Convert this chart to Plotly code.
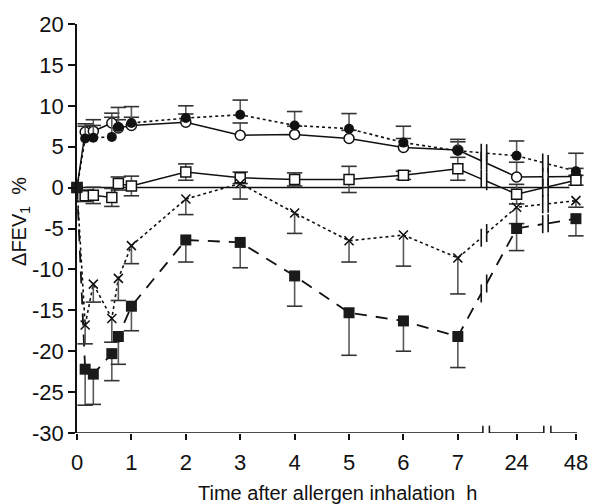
import numpy as np
import plotly.graph_objects as go

# ---------------- data ----------------
time_h = [0, 0.15, 0.3, 0.64, 0.76, 1, 2, 3, 4, 5, 6, 7, 24, 48]
tick_hours = [0, 1, 2, 3, 4, 5, 6, 7, 24, 48]
tick_text = ["0", "1", "2", "3", "4", "5", "6", "7", "24", "48"]
y_ticks = [-30, -25, -20, -15, -10, -5, 0, 5, 10, 15, 20]
y_tick_text = ["-30", "-25", "-20", "-15", "-10", "-5", "0", "5", "10", "15", "20"]

# filled circles (dotted line), error bars upward
fc_vals = [0, 6.0, 6.1, 6.2, 7.4, 7.9, 8.5, 8.9, 7.6, 7.2, 5.5, 4.5, 3.9, 2.0]
fc_err = [None, 1.5, 1.5, 2.4, 2.4, 2.0, 1.5, 1.8, 1.7, 1.85, 2.0, 1.4, 1.8, 2.2]
# open circles (solid line), error bars upward
oc_vals = [0, 6.8, 6.9, 7.9, 7.3, 7.6, 8.0, 6.4, 6.5, 6.0, 4.9, 4.6, 1.3, 1.35]
oc_err = [None, 1.0, 1.4, 1.2, 1.0, 1.0, 1.0, 1.5, 1.0, 1.0, 1.1, 1.0, 1.8, 1.0]
# open squares (solid line), symmetric error bars
os_vals = [0, -1.0, -0.95, -1.2, 0.5, 0.2, 1.9, 1.2, 1.0, 1.0, 1.5, 2.3, -0.8, 0.9]
os_err = [None, 0.7, 1.0, 1.1, 0.8, 1.2, 1.0, 0.7, 0.8, 1.6, 0.5, 1.4, 1.2, 0.6]
# crosses (dotted line), error bars downward
cr_vals = [0, -16.8, -11.8, -16.0, -11.1, -7.1, -1.4, 0.5, -3.1, -6.5, -5.8, -8.6, -2.4, -1.6]
cr_err = [None, 2.3, 2.2, 2.9, 2.7, 2.2, 1.9, 1.9, 2.5, 2.6, 3.8, 4.4, 2.0, 0.8]
# filled squares (dashed line), error bars downward
fs_vals = [0, -22.2, -22.8, -20.3, -18.2, -14.5, -6.4, -6.7, -10.8, -15.3, -16.3, -18.2, -5.0, -3.8]
fs_err = [None, 4.4, 3.7, 3.3, 3.4, 3.0, 2.7, 3.1, 3.7, 5.2, 3.7, 3.8, 2.7, 2.1]

# ---------------- broken time scale ----------------
anchor_h = [0, 7, 24, 48]
anchor_p = [0, 7, 8.08, 9.17]
X_END = 9.19


def to_pos(h):
    return float(np.interp(h, anchor_h, anchor_p))


pos = [to_pos(h) for h in time_h]
tick_pos = [to_pos(h) for h in tick_hours]

line_breaks = [(7.43, 7.53), (8.56, 8.66)]
axis_breaks = [(7.46, 7.58), (8.58, 8.71)]

BLACK = "#111111"
ERRC = "#5a5a5a"
CAPC = "#333333"


def broken_line(xs, ys):
    """Insert gaps in the polyline where it crosses a break."""
    ox, oy, marks = [], [], []
    for i in range(len(xs)):
        if i > 0:
            x0, y0, x1, y1 = xs[i - 1], ys[i - 1], xs[i], ys[i]
            for bl, br in line_breaks:
                if x0 < bl and x1 > br:
                    yl = y0 + (y1 - y0) * (bl - x0) / (x1 - x0)
                    yr = y0 + (y1 - y0) * (br - x0) / (x1 - x0)
                    ox += [bl, None, br]
                    oy += [yl, None, yr]
                    marks += [(bl, yl), (br, yr)]
        ox.append(xs[i])
        oy.append(ys[i])
    return ox, oy, marks


def err_geometry(xs, ys, errs, dirn):
    """Stems (with None separators) and cap positions for error bars."""
    sx, sy, cx, cy = [], [], [], []
    for x, y, e in zip(xs, ys, errs):
        if e is None:
            continue
        if dirn == "up":
            ends = [y + e]
            sx += [x, x, None]
            sy += [y, y + e, None]
        elif dirn == "down":
            ends = [y - e]
            sx += [x, x, None]
            sy += [y, y - e, None]
        else:
            ends = [y + e, y - e]
            sx += [x, x, None]
            sy += [y - e, y + e, None]
        for v in ends:
            cx.append(x)
            cy.append(v)
    return sx, sy, cx, cy


series = [
    dict(vals=oc_vals, err=oc_err, dirn="up", dash="solid", lw=1.5,
         marker=dict(symbol="circle", size=10, color="white", line=dict(color=BLACK, width=1.5))),
    dict(vals=fc_vals, err=fc_err, dirn="up", dash="3px,3px", lw=1.6,
         marker=dict(symbol="circle", size=10, color=BLACK, line=dict(color=BLACK, width=0))),
    dict(vals=os_vals, err=os_err, dirn="both", dash="solid", lw=1.5,
         marker=dict(symbol="square", size=10, color="white", line=dict(color=BLACK, width=1.5))),
    dict(vals=cr_vals, err=cr_err, dirn="down", dash="3px,3px", lw=1.6,
         marker=dict(symbol="x-thin-open", size=9, color=BLACK, line=dict(color=BLACK, width=1.6))),
    dict(vals=fs_vals, err=fs_err, dirn="down", dash="12px,9px", lw=1.8,
         marker=dict(symbol="square", size=11, color="#1a1a1a", line=dict(color="#1a1a1a", width=0))),
]

fig = go.Figure()
shapes = []

# connecting lines first
for s in series:
    lx, ly, marks = broken_line(pos, s["vals"])
    fig.add_trace(go.Scatter(x=lx, y=ly, mode="lines", showlegend=False, hoverinfo="skip",
                             line=dict(color=BLACK, width=s["lw"], dash=s["dash"]),
                             cliponaxis=False))
    for (bx, by) in marks:
        shapes.append(dict(type="line", xref="x", yref="y", x0=bx, x1=bx, y0=by - 1.1, y1=by + 1.1,
                           line=dict(color=BLACK, width=1.6), layer="above"))

# error bars + markers, series by series
for s in series:
    sx, sy, cx, cy = err_geometry(pos, s["vals"], s["err"], s["dirn"])
    fig.add_trace(go.Scatter(x=sx, y=sy, mode="lines", showlegend=False, hoverinfo="skip",
                             line=dict(color=ERRC, width=1.6), cliponaxis=False))
    fig.add_trace(go.Scatter(x=cx, y=cy, mode="markers", showlegend=False, hoverinfo="skip",
                             marker=dict(symbol="line-ew", size=11, color=CAPC,
                                         line=dict(color=CAPC, width=1.6)),
                             cliponaxis=False))
    fig.add_trace(go.Scatter(x=pos, y=s["vals"], mode="markers", showlegend=False,
                             marker=s["marker"], cliponaxis=False))

# zero reference line
shapes.append(dict(type="line", xref="x", yref="y", x0=0, x1=9.05, y0=0, y1=0,
                   line=dict(color=BLACK, width=1.5), layer="below"))

# broken x axis line
segs = [(0, axis_breaks[0][0]), (axis_breaks[0][1], axis_breaks[1][0]), (axis_breaks[1][1], X_END)]
for a, b in segs:
    shapes.append(dict(type="line", xref="x", yref="y", x0=a, x1=b, y0=-30, y1=-30,
                       line=dict(color=BLACK, width=1.5)))
for bl, br in axis_breaks:
    for bx in (bl, br):
        shapes.append(dict(type="line", xref="x", yref="y", x0=bx, x1=bx, y0=-30.9, y1=-29.1,
                           line=dict(color=BLACK, width=1.5)))

FONT = "Liberation Sans, Arial, sans-serif"

fig.update_layout(
    width=600, height=504,
    margin=dict(l=77, r=12, t=22, b=71),
    plot_bgcolor="white", paper_bgcolor="white",
    font=dict(family=FONT, size=22, color=BLACK),
    shapes=shapes,
    xaxis=dict(range=[0, X_END], tickmode="array", tickvals=tick_pos, ticktext=tick_text,
               showline=False, showgrid=False, zeroline=False,
               ticks="outside", ticklen=6, tickwidth=1.5, tickcolor=BLACK,
               ticklabelstandoff=4,
               tickfont=dict(family=FONT, size=22, color=BLACK)),
    yaxis=dict(range=[-30, 20], tickmode="array", tickvals=y_ticks, ticktext=y_tick_text,
               showline=True, linecolor=BLACK, linewidth=1.5, showgrid=False, zeroline=False,
               ticks="outside", ticklen=7, tickwidth=1.5, tickcolor=BLACK,
               tickfont=dict(family=FONT, size=22, color=BLACK)),
    annotations=[
        dict(text="Time after allergen inhalation  h", xref="paper", yref="paper",
             x=0.52, y=-0.146, xanchor="center", yanchor="middle", showarrow=False,
             font=dict(family=FONT, size=20, color=BLACK)),
        dict(text="\u0394FEV<sub>1</sub>  %", xref="paper", yref="paper",
             x=-0.112, y=0.516, xanchor="center", yanchor="middle", textangle=-90,
             showarrow=False, font=dict(family=FONT, size=20, color=BLACK)),
    ],
)

fig.write_html("out.html")
